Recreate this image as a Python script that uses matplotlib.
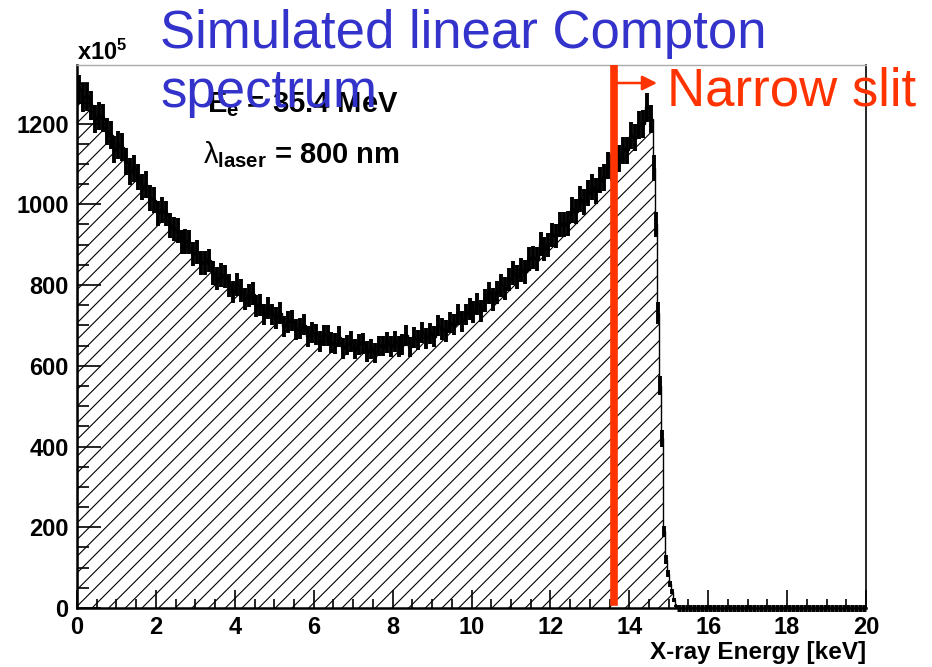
import numpy as np
import matplotlib
matplotlib.use('Agg')
import matplotlib.pyplot as plt
from matplotlib.ticker import MultipleLocator

plt.rcParams['font.family'] = ['Liberation Sans', 'DejaVu Sans']
plt.rcParams['font.weight'] = 'bold'
plt.rcParams['mathtext.fontset'] = 'custom'
plt.rcParams['mathtext.rm'] = 'Liberation Sans:weight=normal'
plt.rcParams['mathtext.bf'] = 'Liberation Sans:weight=bold'
plt.rcParams['mathtext.it'] = 'Liberation Sans:weight=normal'
plt.rcParams['hatch.linewidth'] = 0.8

# Counts (x10^5) per 0.1 keV bin from 0 to 14.6 keV
main_counts = [
    1285, 1264, 1266, 1245, 1211, 1219, 1213, 1180, 1172, 1135,
    1147, 1142, 1105, 1081, 1089, 1067, 1043, 1049, 1016, 1010,
    978, 986, 978, 948, 939, 935, 906, 908, 907, 877,
    881, 855, 854, 861, 830, 816, 825, 821, 799, 783,
    801, 786, 766, 774, 779, 747, 751, 727, 743, 727,
    718, 731, 698, 708, 712, 689, 692, 702, 673, 683,
    678, 660, 675, 674, 657, 655, 672, 643, 651, 660,
    642, 653, 656, 635, 641, 631, 649, 649, 658, 648,
    660, 648, 652, 675, 646, 669, 664, 682, 668, 681,
    672, 699, 691, 686, 707, 702, 727, 710, 727, 740,
    733, 752, 735, 762, 780, 764, 781, 799, 791, 813,
    830, 820, 837, 832, 864, 868, 864, 901, 889, 899,
    924, 921, 951, 949, 953, 986, 982, 1013, 1005, 1028,
    1043, 1034, 1060, 1066, 1096, 1091, 1112, 1113, 1134, 1134,
    1170, 1165, 1197, 1199, 1240, 1212,
]
# Compton edge, 0.05 keV bins from 14.6 to 15.2 keV
edge_counts = [1090, 950, 730, 550, 420, 190, 120, 85, 60, 40, 20, 6]
# empty 0.1 keV bins from 15.2 to 20 keV
tail_counts = [0] * 48

slit_energy = 13.61

counts = np.array(main_counts + edge_counts + tail_counts, dtype=float)
edges = np.concatenate([np.linspace(0, 14.6, 147),
                        np.linspace(14.65, 15.2, 12),
                        np.linspace(15.3, 20, 48)])
centers = 0.5 * (edges[:-1] + edges[1:])
half = 0.5 * np.diff(edges)
errs = 1.0 * np.sqrt(counts)

fig = plt.figure(figsize=(9.32, 6.67), dpi=100)
ax = fig.add_axes([77 / 932, 59 / 667, 789 / 932, 543 / 667])

ax.stairs(counts, edges, fill=True, facecolor='white', edgecolor='black',
          hatch='//', linewidth=1)
nz = counts > 0
ax.errorbar(centers[nz], counts[nz], xerr=half[nz], yerr=errs[nz], fmt='none',
            ecolor='black', elinewidth=2.8)
ax.errorbar(centers[~nz], counts[~nz], xerr=half[~nz], fmt='none',
            ecolor='black', elinewidth=5, clip_on=False)

ax.axvline(slit_energy, ymin=0.011, ymax=1, color='#ff3300', lw=5.5, zorder=5)

ax.set_xlim(0, 20)
ax.set_ylim(0, 1345)
ax.xaxis.set_major_locator(MultipleLocator(2))
ax.xaxis.set_minor_locator(MultipleLocator(0.5))
ax.yaxis.set_major_locator(MultipleLocator(200))
ax.yaxis.set_minor_locator(MultipleLocator(50))
ax.tick_params(axis='both', which='both', direction='in', labelsize=17, width=1.2)
ax.tick_params(axis='x', which='major', length=13, pad=6)
ax.tick_params(axis='x', which='minor', length=6.5)
ax.tick_params(axis='y', which='major', length=17, pad=6)
ax.tick_params(axis='y', which='minor', length=8.5)
ax.spines['left'].set_linewidth(1.8)
ax.spines['bottom'].set_linewidth(1.8)
ax.spines['right'].set_linewidth(1.2)
ax.spines['top'].set_color('#aaaaaa')
ax.spines['top'].set_linewidth(1)

fig.text(866 / 932, 1 - 659 / 667, 'X-ray Energy [keV]', ha='right',
         va='baseline', fontsize=17.5)
fig.text(77 / 932, 1 - 60 / 667, r'$\mathbf{x10^{5}}$', ha='left',
         va='baseline', fontsize=17)

fig.text(207 / 932, 1 - 112 / 667, r'$\mathbf{E_{e}}$ = 35.4 MeV', ha='left',
         va='baseline', fontsize=21)
fig.text(203 / 932, 1 - 163 / 667, r'$\lambda_{\mathbf{laser}}$ = 800 nm',
         ha='left', va='baseline', fontsize=21)

fig.text(160 / 932, 1 - 48 / 667, 'Simulated linear Compton', color='#3333cc',
         fontsize=38, fontweight='normal', ha='left', va='baseline')
fig.text(160 / 932, 1 - 107 / 667, 'spectrum', color='#3333cc',
         fontsize=38, fontweight='normal', ha='left', va='baseline')
fig.text(667 / 932, 1 - 105 / 667, 'Narrow slit', color='#ff3300',
         fontsize=38, fontweight='normal', ha='left', va='baseline')
ax.annotate('', xy=(657 / 932, 1 - 83 / 667), xytext=(617 / 932, 1 - 83 / 667),
            xycoords='figure fraction', textcoords='figure fraction',
            arrowprops=dict(arrowstyle='-|>', color='#ff3300', lw=1.8,
                            mutation_scale=22, shrinkA=0, shrinkB=0))

fig.savefig('out.png', dpi=100)
